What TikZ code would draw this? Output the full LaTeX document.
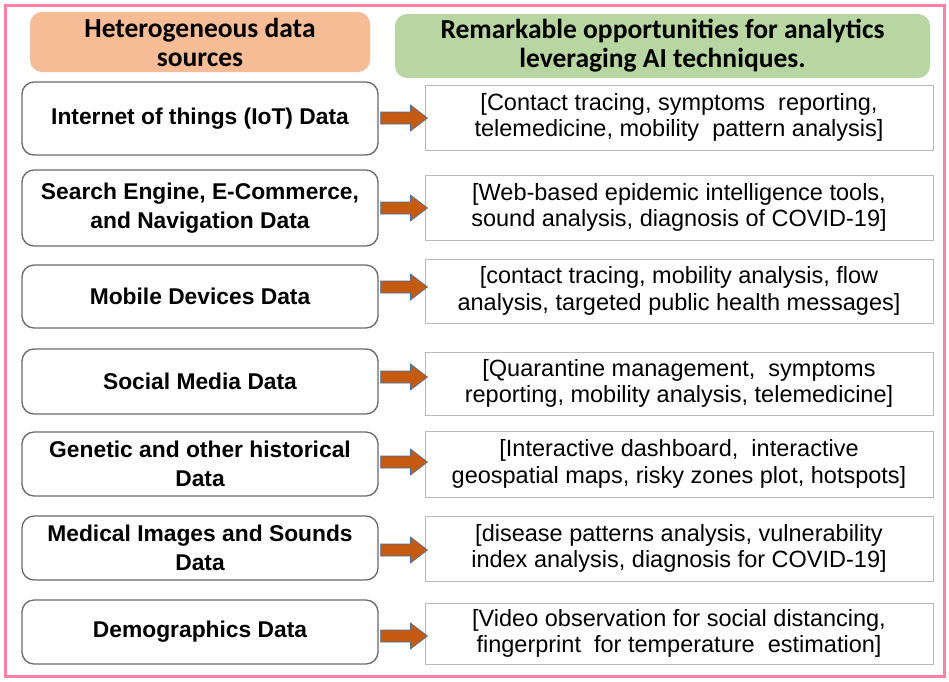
\documentclass[tikz,border=0pt]{standalone}
\usepackage{fontspec}
\setmainfont{Liberation Sans}
\newfontfamily\hdrfont{Carlito}
\usetikzlibrary{calc}
\definecolor{hdrorange}{RGB}{246,188,150}
\definecolor{hdrgreen}{RGB}{184,214,162}
\definecolor{framepink}{RGB}{255,128,165}
\definecolor{arrfill}{RGB}{197,90,17}
\definecolor{arrline}{RGB}{70,110,160}
\definecolor{lgray}{RGB}{105,105,105}
\definecolor{rgray}{RGB}{185,185,185}
\begin{document}
\begin{tikzpicture}[x=1pt,y=-1pt,
  lbox/.style={draw=lgray, line width=1.3pt, rounded corners=12pt, fill=white,
    minimum width=356pt, font=\bfseries\fontsize{22.8}{29}\selectfont, align=center, inner sep=0pt},
  rbox/.style={draw=rgray, line width=1pt, fill=white, minimum width=508pt,
    font=\fontsize{23.5}{26.5}\selectfont, align=center, inner sep=0pt},
  hdr/.style={rounded corners=12pt, font=\hdrfont\bfseries\fontsize{27.5}{29}\selectfont,
    align=center, inner sep=0pt},
  blockarrow/.style={fill=arrfill, draw=arrline, line width=0.6pt, line join=miter}]
\useasboundingbox (0,0) rectangle (949,681);
\fill[white] (0,0) rectangle (949,681);
\draw[framepink, line width=3pt] (5,5) rectangle (944,676);

\node[hdr, fill=hdrorange, minimum width=340pt, minimum height=60pt] (h1) at (200,42)
  {Heterogeneous data\\sources};
\node[hdr, fill=hdrgreen, minimum width=535pt, minimum height=64pt] (h2) at (662.5,46)
  {Remarkable opportunities for analytics\\leveraging AI techniques.};

\node[lbox, minimum height=73pt] (l1) at (200,118.5) {Internet of things (IoT) Data};
\node[lbox, minimum height=76pt] (l2) at (200,208) {Search Engine, E-Commerce,\\and Navigation Data};
\node[lbox, minimum height=63pt] (l3) at (200,296.5) {Mobile Devices Data};
\node[lbox, minimum height=65pt] (l4) at (200,381.5) {Social Media Data};
\node[lbox, minimum height=64pt] (l5) at (200,464) {Genetic and other historical\\Data};
\node[lbox, minimum height=64pt] (l6) at (200,548) {Medical Images and Sounds\\Data};
\node[lbox, minimum height=64pt] (l7) at (200,632) {Demographics Data};

\node[rbox, minimum height=65pt] (r1) at (679,117.5) {[Contact tracing, symptoms\ \ reporting,\\telemedicine, mobility\ \ pattern analysis]};
\node[rbox, minimum height=65pt] (r2) at (679,207.5) {[Web-based epidemic intelligence tools,\\sound analysis, diagnosis of COVID-19]};
\node[rbox, minimum height=64pt] (r3) at (679,291) {[contact tracing, mobility analysis, flow\\analysis, targeted public health messages]};
\node[rbox, minimum height=63pt] (r4) at (679,383.5) {[Quarantine management,\ \ symptoms\\reporting, mobility analysis, telemedicine]};
\node[rbox, minimum height=66pt] (r5) at (679,464) {[Interactive dashboard,\ \ interactive\\geospatial maps, risky zones plot, hotspots]};
\node[rbox, minimum height=65pt] (r6) at (679,548.5) {[disease patterns analysis, vulnerability\\index analysis, diagnosis for COVID-19]};
\node[rbox, minimum height=61pt] (r7) at (679,633.5) {[Video observation for social distancing,\\fingerprint\ \ for temperature\ \ estimation]};

\foreach \i/\ay in {1/118,2/208,3/287,4/377,5/462,6/550,7/636}{
  \coordinate (s\i) at ($(l\i.east |- 0,\ay)+(2,0)$);
  \coordinate (t\i) at ($(r\i.west |- 0,\ay)+(3,0)$);
  \draw[blockarrow] ($(s\i)+(0,-6)$) -- ($(t\i)+(-17,-6)$) -- ($(t\i)+(-17,-13)$) -- (t\i)
    -- ($(t\i)+(-17,13)$) -- ($(t\i)+(-17,6)$) -- ($(s\i)+(0,6)$) -- cycle;
}
\end{tikzpicture}
\end{document}
